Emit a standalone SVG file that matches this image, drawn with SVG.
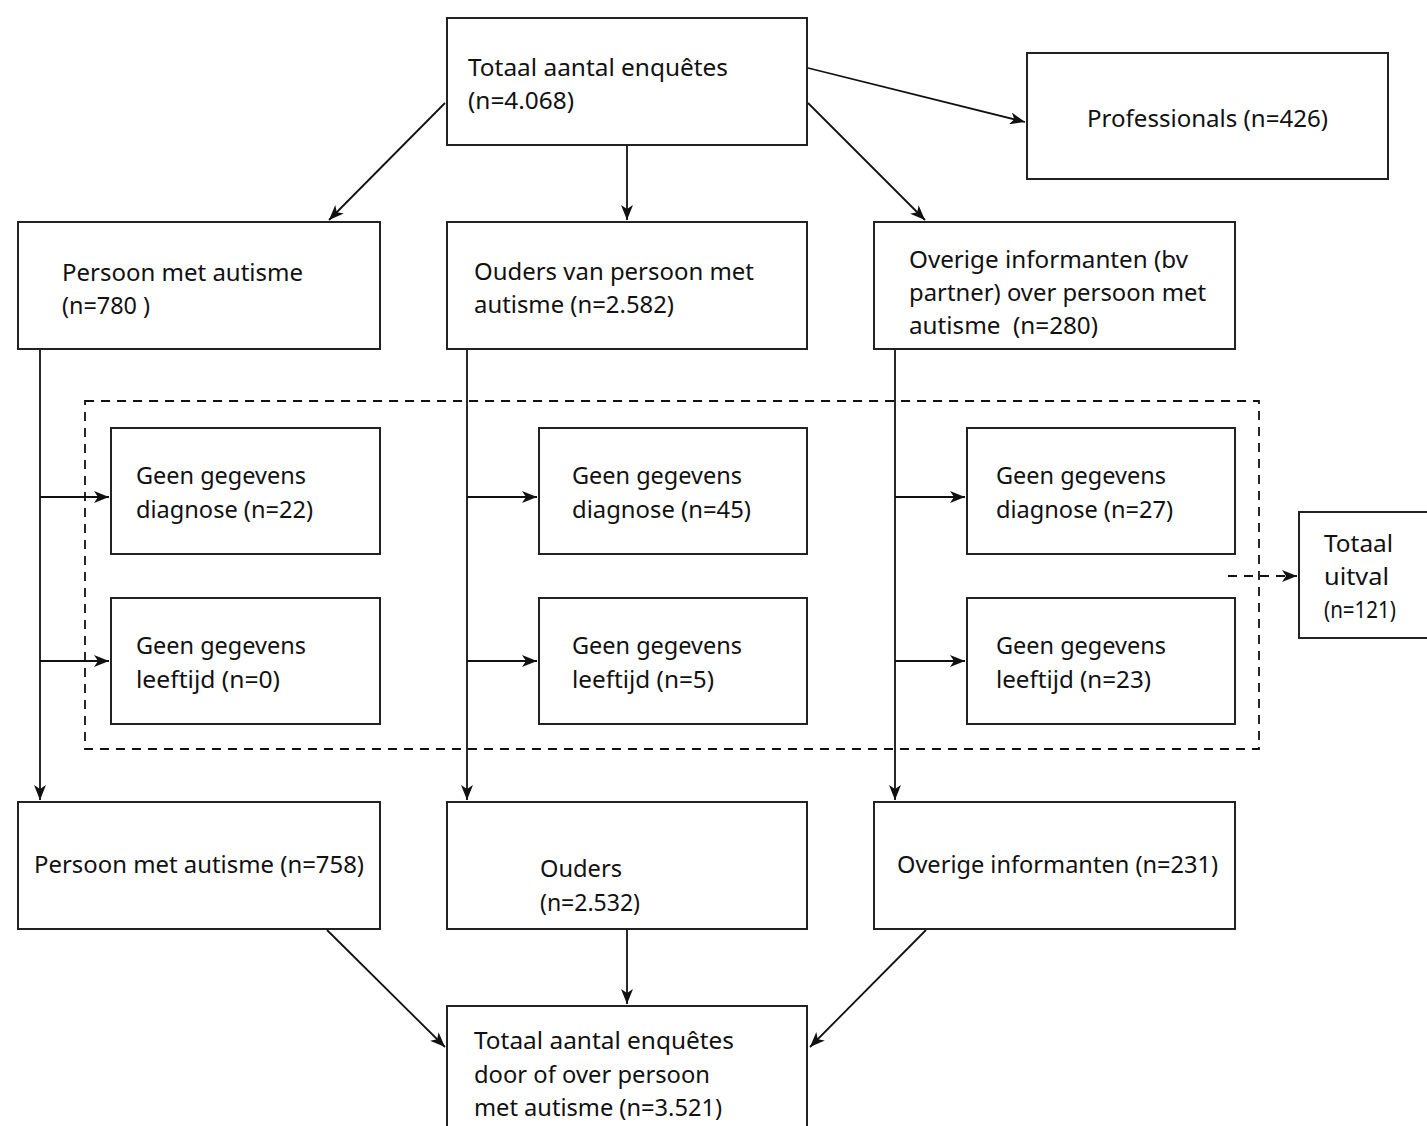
<svg xmlns="http://www.w3.org/2000/svg" width="1427" height="1126" viewBox="0 0 1427 1126">
<defs>
<marker id="ah" markerUnits="userSpaceOnUse" markerWidth="16" markerHeight="12" refX="15" refY="6" orient="auto">
<path d="M0,0 L15,6 L0,12 L4,6 z" fill="#111"/>
</marker>
</defs>
<style>
.box{fill:#fff;stroke:#222;stroke-width:2}
.t{font-family:"Noto Sans","Open Sans","Liberation Sans",sans-serif;font-size:24px;fill:#111}
.c{fill:none;stroke:#111;stroke-width:1.8}
.d{fill:none;stroke:#111;stroke-width:1.8;stroke-dasharray:9 7}
</style>
<rect width="1427" height="1126" fill="#fff"/>
<g id="connectors">
<line class="c" x1="445" y1="103" x2="329" y2="220" marker-end="url(#ah)"/>
<line class="c" x1="627" y1="146" x2="627" y2="220" marker-end="url(#ah)"/>
<line class="c" x1="808" y1="103" x2="925" y2="220" marker-end="url(#ah)"/>
<line class="c" x1="808" y1="68" x2="1025" y2="122" marker-end="url(#ah)"/>
<line class="c" x1="40" y1="349" x2="40" y2="800" marker-end="url(#ah)"/>
<line class="c" x1="467" y1="349" x2="467" y2="800" marker-end="url(#ah)"/>
<line class="c" x1="895" y1="349" x2="895" y2="800" marker-end="url(#ah)"/>
<line class="c" x1="40" y1="497" x2="109" y2="497" marker-end="url(#ah)"/>
<line class="c" x1="40" y1="661" x2="109" y2="661" marker-end="url(#ah)"/>
<line class="c" x1="467" y1="497" x2="537" y2="497" marker-end="url(#ah)"/>
<line class="c" x1="467" y1="661" x2="537" y2="661" marker-end="url(#ah)"/>
<line class="c" x1="895" y1="497" x2="965" y2="497" marker-end="url(#ah)"/>
<line class="c" x1="895" y1="661" x2="965" y2="661" marker-end="url(#ah)"/>
<line class="d" x1="1228" y1="576" x2="1297" y2="576" marker-end="url(#ah)"/>
<line class="c" x1="327" y1="930" x2="445" y2="1047" marker-end="url(#ah)"/>
<line class="c" x1="627" y1="930" x2="627" y2="1004" marker-end="url(#ah)"/>
<line class="c" x1="926" y1="930" x2="810" y2="1047" marker-end="url(#ah)"/>
</g>
<g id="group-uitval">
<rect class="d" x="85" y="401" width="1174" height="348"/>
</g>
<g id="n-totaal">
<rect class="box" x="447" y="18" width="360" height="127"/>
<text class="t" x="468" y="76" textLength="260" lengthAdjust="spacingAndGlyphs">Totaal aantal enquêtes</text>
<text class="t" x="468" y="109" textLength="106" lengthAdjust="spacingAndGlyphs">(n=4.068)</text>
</g>
<g id="n-prof">
<rect class="box" x="1027" y="53" width="361" height="126"/>
<text class="t" x="1087" y="127" textLength="241" lengthAdjust="spacingAndGlyphs">Professionals (n=426)</text>
</g>
<g id="n-persoon1">
<rect class="box" x="18" y="222" width="362" height="127"/>
<text class="t" x="62" y="281" textLength="241" lengthAdjust="spacingAndGlyphs">Persoon met autisme</text>
<text class="t" x="62" y="314" textLength="88" lengthAdjust="spacingAndGlyphs">(n=780 )</text>
</g>
<g id="n-ouders1">
<rect class="box" x="447" y="222" width="360" height="127"/>
<text class="t" x="474" y="280" textLength="280" lengthAdjust="spacingAndGlyphs">Ouders van persoon met</text>
<text class="t" x="474" y="313" textLength="200" lengthAdjust="spacingAndGlyphs">autisme (n=2.582)</text>
</g>
<g id="n-overig1">
<rect class="box" x="874" y="222" width="361" height="127"/>
<text class="t" x="909" y="268" textLength="279" lengthAdjust="spacingAndGlyphs">Overige informanten (bv</text>
<text class="t" x="909" y="301" textLength="297" lengthAdjust="spacingAndGlyphs">partner) over persoon met</text>
<text class="t" x="909" y="334" textLength="189" lengthAdjust="spacingAndGlyphs">autisme &#160;(n=280)</text>
</g>
<g id="n-g1d">
<rect class="box" x="111" y="428" width="269" height="126"/>
<text class="t" x="136" y="484" textLength="170" lengthAdjust="spacingAndGlyphs">Geen gegevens</text>
<text class="t" x="136" y="518" textLength="177" lengthAdjust="spacingAndGlyphs">diagnose (n=22)</text>
</g>
<g id="n-g1l">
<rect class="box" x="111" y="598" width="269" height="126"/>
<text class="t" x="136" y="654" textLength="170" lengthAdjust="spacingAndGlyphs">Geen gegevens</text>
<text class="t" x="136" y="688" textLength="144" lengthAdjust="spacingAndGlyphs">leeftijd (n=0)</text>
</g>
<g id="n-g2d">
<rect class="box" x="539" y="428" width="268" height="126"/>
<text class="t" x="572" y="484" textLength="170" lengthAdjust="spacingAndGlyphs">Geen gegevens</text>
<text class="t" x="572" y="518" textLength="179" lengthAdjust="spacingAndGlyphs">diagnose (n=45)</text>
</g>
<g id="n-g2l">
<rect class="box" x="539" y="598" width="268" height="126"/>
<text class="t" x="572" y="654" textLength="170" lengthAdjust="spacingAndGlyphs">Geen gegevens</text>
<text class="t" x="572" y="688" textLength="142" lengthAdjust="spacingAndGlyphs">leeftijd (n=5)</text>
</g>
<g id="n-g3d">
<rect class="box" x="967" y="428" width="268" height="126"/>
<text class="t" x="996" y="484" textLength="170" lengthAdjust="spacingAndGlyphs">Geen gegevens</text>
<text class="t" x="996" y="518" textLength="177" lengthAdjust="spacingAndGlyphs">diagnose (n=27)</text>
</g>
<g id="n-g3l">
<rect class="box" x="967" y="598" width="268" height="126"/>
<text class="t" x="996" y="654" textLength="170" lengthAdjust="spacingAndGlyphs">Geen gegevens</text>
<text class="t" x="996" y="688" textLength="155" lengthAdjust="spacingAndGlyphs">leeftijd (n=23)</text>
</g>
<g id="n-uitval">
<rect class="box" x="1299" y="512" width="140" height="126"/>
<text class="t" x="1324" y="552" textLength="69" lengthAdjust="spacingAndGlyphs">Totaal</text>
<text class="t" x="1324" y="585" textLength="65" lengthAdjust="spacingAndGlyphs">uitval</text>
<text class="t" x="1324" y="618" textLength="72" lengthAdjust="spacingAndGlyphs">(n=121)</text>
</g>
<g id="n-persoon2">
<rect class="box" x="18" y="802" width="362" height="127"/>
<text class="t" x="34" y="873" textLength="330" lengthAdjust="spacingAndGlyphs">Persoon met autisme (n=758)</text>
</g>
<g id="n-ouders2">
<rect class="box" x="447" y="802" width="360" height="127"/>
<text class="t" x="540" y="877" textLength="82" lengthAdjust="spacingAndGlyphs">Ouders</text>
<text class="t" x="540" y="911" textLength="100" lengthAdjust="spacingAndGlyphs">(n=2.532)</text>
</g>
<g id="n-overig2">
<rect class="box" x="874" y="802" width="361" height="127"/>
<text class="t" x="897" y="873" textLength="321" lengthAdjust="spacingAndGlyphs">Overige informanten (n=231)</text>
</g>
<g id="n-eind">
<rect class="box" x="447" y="1006" width="360" height="130"/>
<text class="t" x="474" y="1049" textLength="260" lengthAdjust="spacingAndGlyphs">Totaal aantal enquêtes</text>
<text class="t" x="474" y="1083" textLength="236" lengthAdjust="spacingAndGlyphs">door of over persoon</text>
<text class="t" x="474" y="1116" textLength="248" lengthAdjust="spacingAndGlyphs">met autisme (n=3.521)</text>
</g>
</svg>
